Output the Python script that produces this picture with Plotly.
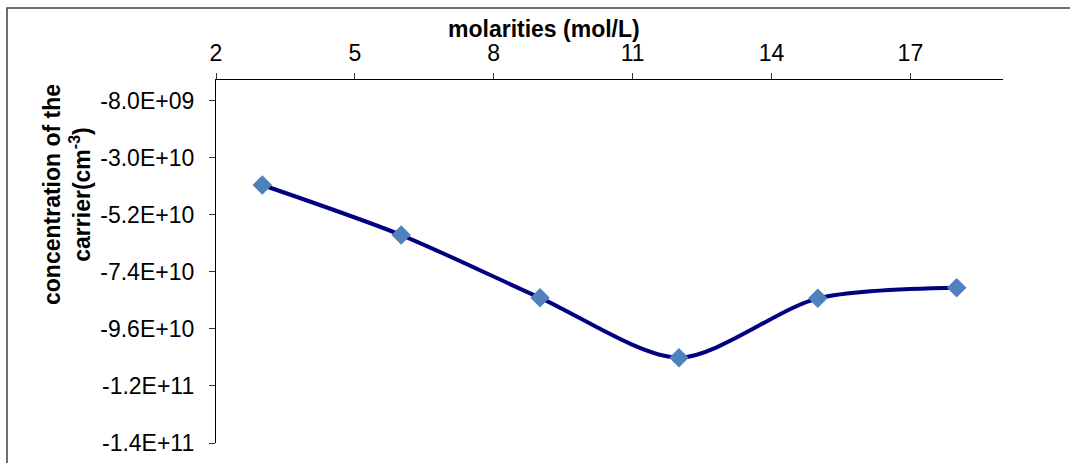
import plotly.graph_objects as go

# Data
molarities = [3, 6, 9, 12, 15, 18]
concentration = [-4.05e10, -5.98e10, -8.40e10, -1.071e11, -8.42e10, -8.01e10]

x_tickvals = [2, 5, 8, 11, 14, 17]
y_tickvals = [-1.4e11, -1.18e11, -9.6e10, -7.4e10, -5.2e10, -3.0e10, -8.0e9]
y_ticktext = ["-1.4E+11", "-1.2E+11", "-9.6E+10", "-7.4E+10", "-5.2E+10", "-3.0E+10", "-8.0E+09"]

x_title = "molarities (mol/L)"
y_title = "concentration of the<br>carrier(cm<sup>-3</sup>)"

W, H = 1070, 463
L, R, T, B = 216, 1070 - 1003, 80, 463 - 443
pw, ph = W - L - R, H - T - B

def px_x(p):
    return (p - L) / pw

def px_y(p):
    return (H - B - p) / ph

FONT = "Arial, Liberation Sans, sans-serif"

fig = go.Figure()
fig.add_trace(go.Scatter(
    x=molarities, y=concentration,
    mode="lines+markers",
    line=dict(color="#000080", width=4, shape="spline", smoothing=0.8),
    marker=dict(symbol="diamond", size=15, color="#4F81BD", line=dict(width=0)),
    showlegend=False, cliponaxis=False,
))

fig.update_layout(
    template="none",
    width=W, height=H,
    margin=dict(l=L, r=R, t=T, b=B, pad=0),
    paper_bgcolor="white", plot_bgcolor="white",
    font=dict(family=FONT, size=23, color="black"),
    xaxis=dict(
        side="top", range=[2, 19], tickmode="array", tickvals=x_tickvals,
        ticks="outside", ticklen=6, tickcolor="#333", tickwidth=1,
        showline=True, linecolor="black", linewidth=1.3, automargin=False,
        showgrid=False, zeroline=False, ticklabelstandoff=3,
        tickfont=dict(size=23, family=FONT, color="black"),
    ),
    yaxis=dict(
        range=[-1.4e11, 0], tickmode="array", tickvals=y_tickvals, ticktext=y_ticktext,
        ticks="outside", ticklen=6, tickcolor="#333", tickwidth=1,
        showline=True, linecolor="black", linewidth=1.3, automargin=False,
        showgrid=False, zeroline=False, ticklabelstandoff=10,
        tickfont=dict(size=23, family=FONT, color="black"),
    ),
    annotations=[
        dict(text="<b>" + x_title + "</b>", xref="paper", yref="paper",
             x=px_x(544), y=px_y(29), xanchor="center", yanchor="middle",
             showarrow=False, font=dict(size=23, family=FONT, color="black")),
        dict(text="<b>" + y_title + "</b>", xref="paper", yref="paper",
             x=px_x(67), y=px_y(195), xanchor="center", yanchor="middle",
             textangle=-90, showarrow=False, font=dict(size=23, family=FONT, color="black")),
    ],
    shapes=[
        dict(type="rect", xref="paper", yref="paper",
             x0=px_x(7), y0=px_y(480), x1=px_x(1090), y1=px_y(8),
             line=dict(color="#404040", width=1.5), fillcolor="rgba(0,0,0,0)", layer="below"),
    ],
)

fig.write_html("out.html")
